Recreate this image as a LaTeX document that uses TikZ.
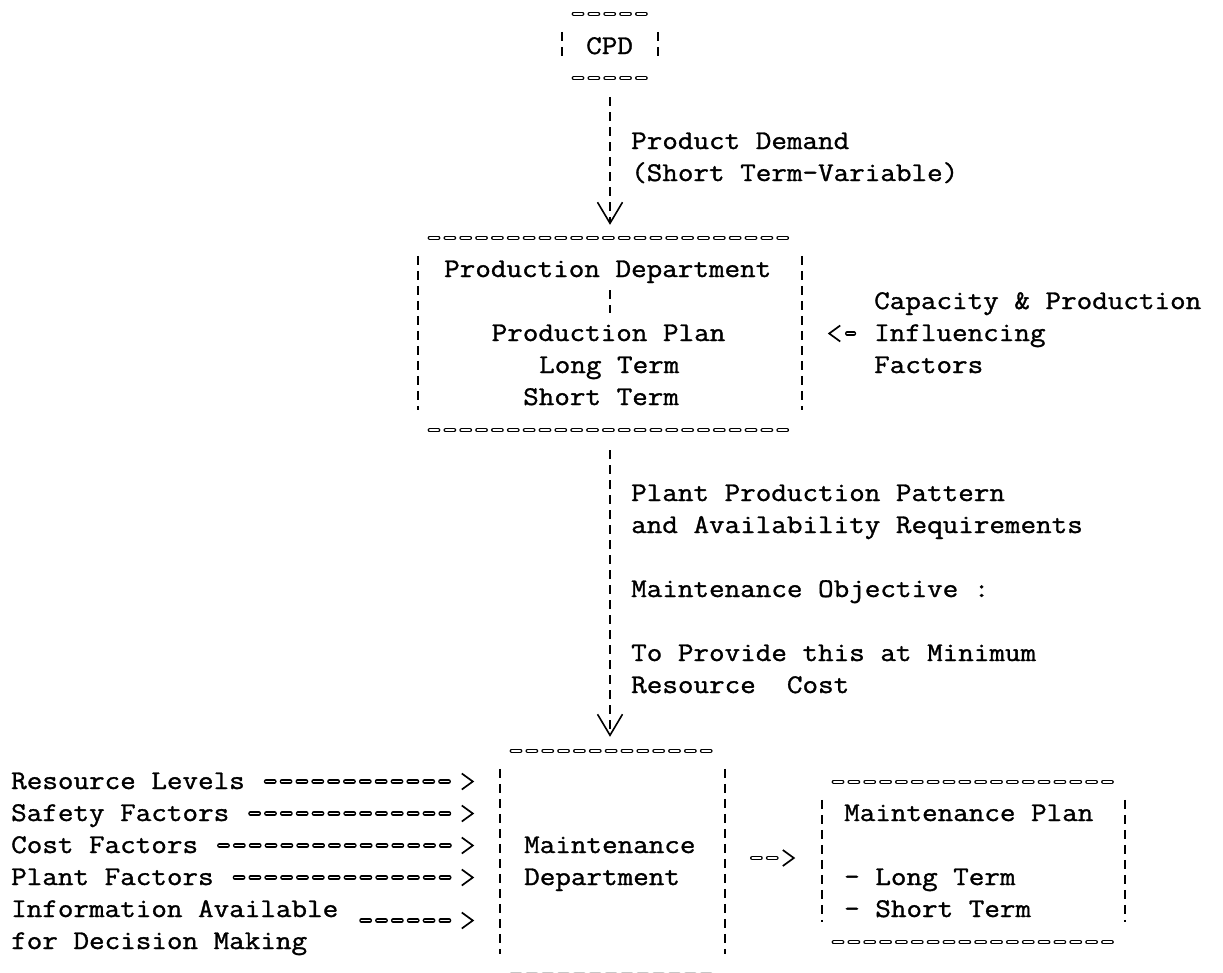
\documentclass[tikz,border=0pt]{standalone}
\usepackage{fontspec}
\newfontfamily\tw[FakeStretch=1.12,FakeBold=1.2]{Latin Modern Mono}
\usetikzlibrary{calc,arrows.meta}
\begin{document}
\begin{tikzpicture}[x=1pt,y=-1pt,
  txt/.style={anchor=base west,inner sep=0pt,font=\tw\fontsize{27}{32}\selectfont,text height=20pt,text depth=5pt},
  box/.style={rectangle,inner sep=0pt,draw=none},
  chain/.style={double,line width=1.4pt,double distance=1.6pt,line cap=round,dash pattern=on 8.4pt off 7.45pt},
  vbar/.style={line width=1.9pt,dash pattern=on 9pt off 6pt},
  flow/.style={vbar,-{Straight Barb[length=21pt,width=25pt,line width=1.6pt]}},
  chev/.style={line width=1.7pt,line join=miter,line cap=butt,solid},
]
\useasboundingbox (0,0) rectangle (1223,972);
\fill[white] (0,0) rectangle (1223,972);

% boxes
\node[box,minimum width=96pt,minimum height=64pt] (cpd) at (610,46) {};
\node[box,minimum width=384pt,minimum height=192pt] (pd) at (610,334) {};
\node[box,minimum width=225pt,minimum height=223pt] (md) at (612.5,862.5) {};
\node[box,minimum width=303pt,minimum height=160pt] (mp) at (973.5,862) {};

\foreach \b in {cpd,pd,mp}{
  \draw[chain] ($(\b.north west)+(12,0)$) -- ($(\b.north east)+(-12,0)$);
  \draw[chain] ($(\b.south west)+(12,0)$) -- ($(\b.south east)+(-12,0)$);
}
\draw[chain] ($(md.north west)+(12,0)$) -- ($(md.north east)+(-12,0)$);
\draw[chain,gray!45] ($(md.south west)+(12,0)$) -- ($(md.south east)+(-12,0)$);
\foreach \b in {cpd,pd,md,mp}{
  \draw[vbar] ($(\b.north west)+(0,18)$) -- ($(\b.south west)+(0,-20)$);
  \draw[vbar] ($(\b.north east)+(0,18)$) -- ($(\b.south east)+(0,-20)$);
}

% texts
\node[txt] (tcpd) at (586,54) {CPD};
\node[txt] (tpd1) at (631,149) {Product Demand};
\node[txt] (tpd2) at (631,181) {(Short Term-Variable)};
\node[txt] (tpdep) at (444,277) {Production Department};
\node[txt] (tpp) at (491.5,341) {Production Plan};
\node[txt] (tlt) at (539,373) {Long Term};
\node[txt] (tst) at (523,405) {Short Term};
\node[txt] (tcap) at (874,309) {Capacity \& Production};
\node[txt] (tinf) at (874,341) {Influencing};
\node[txt] (tfac) at (874,373) {Factors};
\node[txt] (tr1) at (631,501) {Plant Production Pattern};
\node[txt] (tr2) at (631,533) {and Availability Requirements};
\node[txt] (tr3) at (631,597) {Maintenance Objective :};
\node[txt] (tr4) at (631,661) {To Provide this at Minimum};
\node[txt] (tr5) at (631,693) {Resource\ \ Cost};
\node[txt] (tl1) at (11,789) {Resource Levels};
\node[txt] (tl2) at (11,821) {Safety Factors};
\node[txt] (tl3) at (11,853) {Cost Factors};
\node[txt] (tl4) at (11,885) {Plant Factors};
\node[txt] (tl5) at (11,917) {Information Available};
\node[txt] (tl6) at (11,949) {for Decision Making};
\node[txt] (tm1) at (524,853) {Maintenance};
\node[txt] (tm2) at (524,885) {Department};
\node[txt] (tp1) at (844,821) {Maintenance Plan};
\node[txt] (tp2) at (844,885) {- Long Term};
\node[txt] (tp3) at (844,917) {- Short Term};

% vertical flows
\draw[flow] ($(cpd.south)+(0,19)$) -- ($(pd.north)+(0,-13)$);
\draw[vbar,shorten <=8pt,shorten >=8pt] (tpdep.south -| pd.north) -- (tpp.north -| pd.north);
\draw[flow] ($(pd.south)+(0,20)$) -- ($(pd.south |- md.north)+(0,-14)$);

% capacity arrow
\draw[chain,shorten <=20pt,shorten >=45pt] (tinf.west) -- (tinf.west -| pd.east);
\coordinate (capTip) at ($(tinf.west -| pd.east)+(27,0)$);
\draw[chev] ($(capTip)+(11,-8)$) -- (capTip) -- ($(capTip)+(11,8)$);

% maintenance department -> plan
\draw[chain,shorten <=27pt,shorten >=44pt] ($(md.east)+(0,-4.5)$) -- ($(mp.west)+(0,-4)$);
\coordinate (mpTip) at ($(mp.west)+(-28,-4)$);
\draw[chev] ($(mpTip)+(-11,-8)$) -- (mpTip) -- ($(mpTip)+(-11,8)$);

% left inputs
\foreach \t in {tl1,tl2,tl3,tl4}{
  \coordinate (e\t) at (\t.east -| md.west);
  \draw[chain,shorten <=21pt,shorten >=44.5pt] (\t.east) -- (e\t);
  \draw[chev] ($(e\t)+(-38,-8)$) -- ($(e\t)+(-27,0)$) -- ($(e\t)+(-38,8)$);
}
\coordinate (etl5) at ($(tl5.east -| md.west)+(0,11)$);
\draw[chain,shorten <=23pt,shorten >=44.5pt] ($(tl5.east)+(0,11)$) -- (etl5);
\draw[chev] ($(etl5)+(-38,-8)$) -- ($(etl5)+(-27,0)$) -- ($(etl5)+(-38,8)$);
\end{tikzpicture}
\end{document}
